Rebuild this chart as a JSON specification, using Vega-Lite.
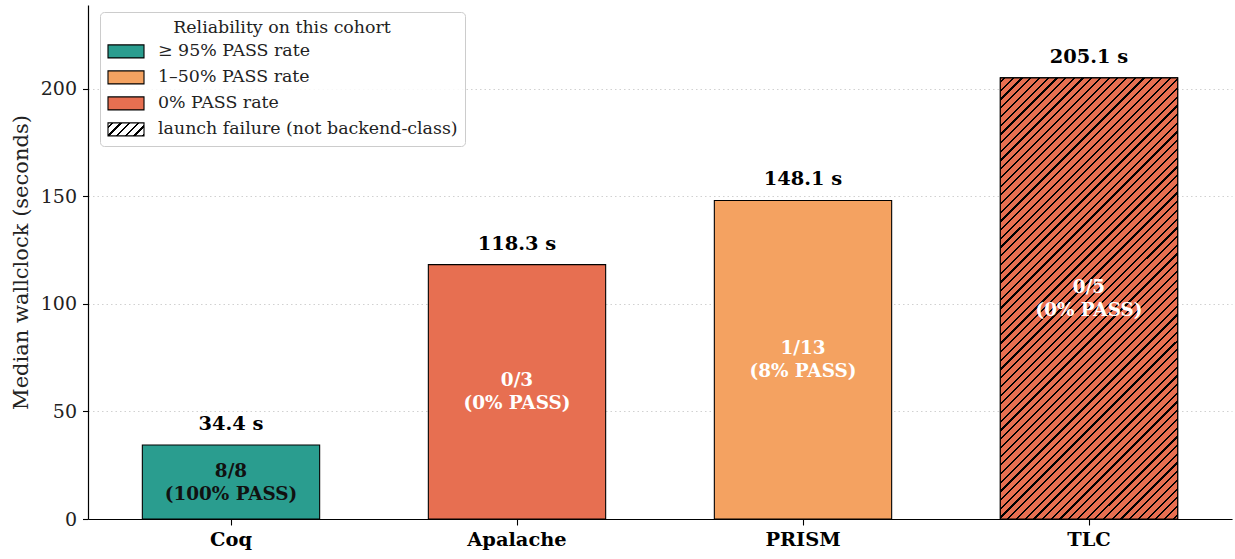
{
  "$schema": "https://vega.github.io/schema/vega-lite/v6.json",
  "width": 1144,
  "height": 514,
  "autosize": {"type": "none"},
  "padding": {"left": 88, "top": 5, "right": 3, "bottom": 40},
  "background": "white",
  "config": {
    "font": "DejaVu Serif",
    "view": {"stroke": null},
    "axis": {"labelFont": "DejaVu Serif", "titleFont": "DejaVu Serif"},
    "legend": {"labelFont": "DejaVu Serif", "titleFont": "DejaVu Serif"},
    "text": {"font": "DejaVu Serif"}
  },
  "data": {
    "values": [
      {"tool": "Coq", "median": 34.4, "label": "34.4 s", "cat": "≥ 95% PASS rate", "inner": ["8/8", "(100% PASS)"], "hatch": false},
      {"tool": "Apalache", "median": 118.3, "label": "118.3 s", "cat": "0% PASS rate", "inner": ["0/3", "(0% PASS)"], "hatch": false},
      {"tool": "PRISM", "median": 148.1, "label": "148.1 s", "cat": "1–50% PASS rate", "inner": ["1/13", "(8% PASS)"], "hatch": false},
      {"tool": "TLC", "median": 205.1, "label": "205.1 s", "cat": "0% PASS rate", "inner": ["0/5", "(0% PASS)"], "hatch": true}
    ]
  },
  "encoding": {
    "x": {
      "field": "tool", "type": "nominal", "sort": null,
      "scale": {"paddingInner": 0.38, "paddingOuter": 0.19},
      "axis": {"title": null, "labelAngle": 0, "labelFont": "DejaVu Serif", "labelFontWeight": "bold", "labelFontSize": 19.4, "labelColor": "black", "labelPadding": 5, "tickSize": 6, "tickColor": "black", "domainColor": "black", "domainWidth": 1.2, "tickWidth": 1.1, "grid": false}
    }
  },
  "layer": [
    {
      "mark": {"type": "bar", "stroke": "black", "strokeWidth": 1.1},
      "encoding": {
        "y": {
          "field": "median", "type": "quantitative",
          "scale": {"domain": [0, 239], "nice": false},
          "axis": {"title": "Median wallclock (seconds)", "titleFont": "DejaVu Serif", "labelFont": "DejaVu Serif", "titleFontWeight": "normal", "titleFontSize": 21, "titleColor": "#222", "labelFontSize": 19, "labelColor": "#222", "tickColor": "black", "domainColor": "black", "domainWidth": 1.2, "tickWidth": 1.1, "tickSize": 5.5, "labelPadding": 6, "titlePadding": 9, "grid": true, "gridDash": [1.5, 3], "gridColor": "#cccccc", "gridWidth": 0.9, "values": [0, 50, 100, 150, 200]}
        },
        "fill": {
          "field": "cat", "type": "nominal",
          "scale": {
            "domain": ["≥ 95% PASS rate", "1–50% PASS rate", "0% PASS rate", "launch failure (not backend-class)"],
            "range": ["#2a9d8f", "#f4a261", "#e76f51", {"expr": "{gradient: 'linear', x1: 0, y1: 0, x2: 1.2041, y2: 0.4348, stops: [{offset: 0, color: 'white'}, {offset: 0.0653, color: 'white'}, {offset: 0.0653, color: 'black'}, {offset: 0.1123, color: 'black'}, {offset: 0.1123, color: 'white'}, {offset: 0.2428, color: 'white'}, {offset: 0.2428, color: 'black'}, {offset: 0.2898, color: 'black'}, {offset: 0.2898, color: 'white'}, {offset: 0.4204, color: 'white'}, {offset: 0.4204, color: 'black'}, {offset: 0.4674, color: 'black'}, {offset: 0.4674, color: 'white'}, {offset: 0.5979, color: 'white'}, {offset: 0.5979, color: 'black'}, {offset: 0.6449, color: 'black'}, {offset: 0.6449, color: 'white'}, {offset: 0.7755, color: 'white'}, {offset: 0.7755, color: 'black'}, {offset: 0.8225, color: 'black'}, {offset: 0.8225, color: 'white'}, {offset: 0.9530, color: 'white'}, {offset: 0.9530, color: 'black'}, {offset: 1, color: 'black'}]}"}]
          },
          "legend": {
            "title": "Reliability on this cohort",
            "orient": "none", "legendX": 12, "legendY": 7,
            "titleFont": "DejaVu Serif", "labelFont": "DejaVu Serif",
            "titleAnchor": "middle", "titleFontWeight": "normal", "titleFontSize": 17.4, "titleColor": "#222", "titlePadding": 1, "titleLimit": 0,
            "labelFontSize": 17.4, "labelColor": "#222", "labelOffset": 18, "labelLimit": 0,
            "symbolType": "M-1.385,-0.5H1.385V0.5H-1.385Z", "symbolSize": 676, "symbolStrokeColor": "black", "symbolStrokeWidth": 1.1, "symbolOffset": 5,
            "rowPadding": 3, "padding": 7,
            "fillColor": "rgba(255,255,255,0.85)", "strokeColor": "#cccccc", "cornerRadius": 4,
            "encode": {
              "labels": {"update": {"font": {"value": "DejaVu Serif"}}},
              "symbols": {
                "update": {
                  "stroke": {"value": "black"},
                  "strokeWidth": {"value": 1.1},
                  "opacity": {"value": 1}
                }
              }
            }
          }
        }
      }
    },
    {
      "transform": [{"filter": "datum.hatch"}],
      "mark": {"type": "bar", "stroke": "black", "strokeWidth": 1.1, "fill": {"gradient": "linear", "x1": 0, "y1": 0, "x2": 0.4851, "y2": 1.2069, "stops": [
        {"offset": 0, "color": "#e76f51"},
        {"offset": 0.0052, "color": "#e76f51"}, {"offset": 0.0052, "color": "black"}, {"offset": 0.0088, "color": "black"}, {"offset": 0.0088, "color": "#e76f51"},
        {"offset": 0.0193, "color": "#e76f51"}, {"offset": 0.0193, "color": "black"}, {"offset": 0.0229, "color": "black"}, {"offset": 0.0229, "color": "#e76f51"},
        {"offset": 0.0334, "color": "#e76f51"}, {"offset": 0.0334, "color": "black"}, {"offset": 0.0370, "color": "black"}, {"offset": 0.0370, "color": "#e76f51"},
        {"offset": 0.0475, "color": "#e76f51"}, {"offset": 0.0475, "color": "black"}, {"offset": 0.0511, "color": "black"}, {"offset": 0.0511, "color": "#e76f51"},
        {"offset": 0.0616, "color": "#e76f51"}, {"offset": 0.0616, "color": "black"}, {"offset": 0.0652, "color": "black"}, {"offset": 0.0652, "color": "#e76f51"},
        {"offset": 0.0757, "color": "#e76f51"}, {"offset": 0.0757, "color": "black"}, {"offset": 0.0793, "color": "black"}, {"offset": 0.0793, "color": "#e76f51"},
        {"offset": 0.0898, "color": "#e76f51"}, {"offset": 0.0898, "color": "black"}, {"offset": 0.0934, "color": "black"}, {"offset": 0.0934, "color": "#e76f51"},
        {"offset": 0.1038, "color": "#e76f51"}, {"offset": 0.1038, "color": "black"}, {"offset": 0.1074, "color": "black"}, {"offset": 0.1074, "color": "#e76f51"},
        {"offset": 0.1179, "color": "#e76f51"}, {"offset": 0.1179, "color": "black"}, {"offset": 0.1215, "color": "black"}, {"offset": 0.1215, "color": "#e76f51"},
        {"offset": 0.1320, "color": "#e76f51"}, {"offset": 0.1320, "color": "black"}, {"offset": 0.1356, "color": "black"}, {"offset": 0.1356, "color": "#e76f51"},
        {"offset": 0.1461, "color": "#e76f51"}, {"offset": 0.1461, "color": "black"}, {"offset": 0.1497, "color": "black"}, {"offset": 0.1497, "color": "#e76f51"},
        {"offset": 0.1602, "color": "#e76f51"}, {"offset": 0.1602, "color": "black"}, {"offset": 0.1638, "color": "black"}, {"offset": 0.1638, "color": "#e76f51"},
        {"offset": 0.1743, "color": "#e76f51"}, {"offset": 0.1743, "color": "black"}, {"offset": 0.1779, "color": "black"}, {"offset": 0.1779, "color": "#e76f51"},
        {"offset": 0.1883, "color": "#e76f51"}, {"offset": 0.1883, "color": "black"}, {"offset": 0.1919, "color": "black"}, {"offset": 0.1919, "color": "#e76f51"},
        {"offset": 0.2024, "color": "#e76f51"}, {"offset": 0.2024, "color": "black"}, {"offset": 0.2060, "color": "black"}, {"offset": 0.2060, "color": "#e76f51"},
        {"offset": 0.2165, "color": "#e76f51"}, {"offset": 0.2165, "color": "black"}, {"offset": 0.2201, "color": "black"}, {"offset": 0.2201, "color": "#e76f51"},
        {"offset": 0.2306, "color": "#e76f51"}, {"offset": 0.2306, "color": "black"}, {"offset": 0.2342, "color": "black"}, {"offset": 0.2342, "color": "#e76f51"},
        {"offset": 0.2447, "color": "#e76f51"}, {"offset": 0.2447, "color": "black"}, {"offset": 0.2483, "color": "black"}, {"offset": 0.2483, "color": "#e76f51"},
        {"offset": 0.2588, "color": "#e76f51"}, {"offset": 0.2588, "color": "black"}, {"offset": 0.2624, "color": "black"}, {"offset": 0.2624, "color": "#e76f51"},
        {"offset": 0.2729, "color": "#e76f51"}, {"offset": 0.2729, "color": "black"}, {"offset": 0.2765, "color": "black"}, {"offset": 0.2765, "color": "#e76f51"},
        {"offset": 0.2869, "color": "#e76f51"}, {"offset": 0.2869, "color": "black"}, {"offset": 0.2905, "color": "black"}, {"offset": 0.2905, "color": "#e76f51"},
        {"offset": 0.3010, "color": "#e76f51"}, {"offset": 0.3010, "color": "black"}, {"offset": 0.3046, "color": "black"}, {"offset": 0.3046, "color": "#e76f51"},
        {"offset": 0.3151, "color": "#e76f51"}, {"offset": 0.3151, "color": "black"}, {"offset": 0.3187, "color": "black"}, {"offset": 0.3187, "color": "#e76f51"},
        {"offset": 0.3292, "color": "#e76f51"}, {"offset": 0.3292, "color": "black"}, {"offset": 0.3328, "color": "black"}, {"offset": 0.3328, "color": "#e76f51"},
        {"offset": 0.3433, "color": "#e76f51"}, {"offset": 0.3433, "color": "black"}, {"offset": 0.3469, "color": "black"}, {"offset": 0.3469, "color": "#e76f51"},
        {"offset": 0.3574, "color": "#e76f51"}, {"offset": 0.3574, "color": "black"}, {"offset": 0.3610, "color": "black"}, {"offset": 0.3610, "color": "#e76f51"},
        {"offset": 0.3714, "color": "#e76f51"}, {"offset": 0.3714, "color": "black"}, {"offset": 0.3750, "color": "black"}, {"offset": 0.3750, "color": "#e76f51"},
        {"offset": 0.3855, "color": "#e76f51"}, {"offset": 0.3855, "color": "black"}, {"offset": 0.3891, "color": "black"}, {"offset": 0.3891, "color": "#e76f51"},
        {"offset": 0.3996, "color": "#e76f51"}, {"offset": 0.3996, "color": "black"}, {"offset": 0.4032, "color": "black"}, {"offset": 0.4032, "color": "#e76f51"},
        {"offset": 0.4137, "color": "#e76f51"}, {"offset": 0.4137, "color": "black"}, {"offset": 0.4173, "color": "black"}, {"offset": 0.4173, "color": "#e76f51"},
        {"offset": 0.4278, "color": "#e76f51"}, {"offset": 0.4278, "color": "black"}, {"offset": 0.4314, "color": "black"}, {"offset": 0.4314, "color": "#e76f51"},
        {"offset": 0.4419, "color": "#e76f51"}, {"offset": 0.4419, "color": "black"}, {"offset": 0.4455, "color": "black"}, {"offset": 0.4455, "color": "#e76f51"},
        {"offset": 0.4560, "color": "#e76f51"}, {"offset": 0.4560, "color": "black"}, {"offset": 0.4596, "color": "black"}, {"offset": 0.4596, "color": "#e76f51"},
        {"offset": 0.4700, "color": "#e76f51"}, {"offset": 0.4700, "color": "black"}, {"offset": 0.4736, "color": "black"}, {"offset": 0.4736, "color": "#e76f51"},
        {"offset": 0.4841, "color": "#e76f51"}, {"offset": 0.4841, "color": "black"}, {"offset": 0.4877, "color": "black"}, {"offset": 0.4877, "color": "#e76f51"},
        {"offset": 0.4982, "color": "#e76f51"}, {"offset": 0.4982, "color": "black"}, {"offset": 0.5018, "color": "black"}, {"offset": 0.5018, "color": "#e76f51"},
        {"offset": 0.5123, "color": "#e76f51"}, {"offset": 0.5123, "color": "black"}, {"offset": 0.5159, "color": "black"}, {"offset": 0.5159, "color": "#e76f51"},
        {"offset": 0.5264, "color": "#e76f51"}, {"offset": 0.5264, "color": "black"}, {"offset": 0.5300, "color": "black"}, {"offset": 0.5300, "color": "#e76f51"},
        {"offset": 0.5405, "color": "#e76f51"}, {"offset": 0.5405, "color": "black"}, {"offset": 0.5441, "color": "black"}, {"offset": 0.5441, "color": "#e76f51"},
        {"offset": 0.5545, "color": "#e76f51"}, {"offset": 0.5545, "color": "black"}, {"offset": 0.5581, "color": "black"}, {"offset": 0.5581, "color": "#e76f51"},
        {"offset": 0.5686, "color": "#e76f51"}, {"offset": 0.5686, "color": "black"}, {"offset": 0.5722, "color": "black"}, {"offset": 0.5722, "color": "#e76f51"},
        {"offset": 0.5827, "color": "#e76f51"}, {"offset": 0.5827, "color": "black"}, {"offset": 0.5863, "color": "black"}, {"offset": 0.5863, "color": "#e76f51"},
        {"offset": 0.5968, "color": "#e76f51"}, {"offset": 0.5968, "color": "black"}, {"offset": 0.6004, "color": "black"}, {"offset": 0.6004, "color": "#e76f51"},
        {"offset": 0.6109, "color": "#e76f51"}, {"offset": 0.6109, "color": "black"}, {"offset": 0.6145, "color": "black"}, {"offset": 0.6145, "color": "#e76f51"},
        {"offset": 0.6250, "color": "#e76f51"}, {"offset": 0.6250, "color": "black"}, {"offset": 0.6286, "color": "black"}, {"offset": 0.6286, "color": "#e76f51"},
        {"offset": 0.6391, "color": "#e76f51"}, {"offset": 0.6391, "color": "black"}, {"offset": 0.6427, "color": "black"}, {"offset": 0.6427, "color": "#e76f51"},
        {"offset": 0.6531, "color": "#e76f51"}, {"offset": 0.6531, "color": "black"}, {"offset": 0.6567, "color": "black"}, {"offset": 0.6567, "color": "#e76f51"},
        {"offset": 0.6672, "color": "#e76f51"}, {"offset": 0.6672, "color": "black"}, {"offset": 0.6708, "color": "black"}, {"offset": 0.6708, "color": "#e76f51"},
        {"offset": 0.6813, "color": "#e76f51"}, {"offset": 0.6813, "color": "black"}, {"offset": 0.6849, "color": "black"}, {"offset": 0.6849, "color": "#e76f51"},
        {"offset": 0.6954, "color": "#e76f51"}, {"offset": 0.6954, "color": "black"}, {"offset": 0.6990, "color": "black"}, {"offset": 0.6990, "color": "#e76f51"},
        {"offset": 0.7095, "color": "#e76f51"}, {"offset": 0.7095, "color": "black"}, {"offset": 0.7131, "color": "black"}, {"offset": 0.7131, "color": "#e76f51"},
        {"offset": 0.7236, "color": "#e76f51"}, {"offset": 0.7236, "color": "black"}, {"offset": 0.7272, "color": "black"}, {"offset": 0.7272, "color": "#e76f51"},
        {"offset": 0.7376, "color": "#e76f51"}, {"offset": 0.7376, "color": "black"}, {"offset": 0.7412, "color": "black"}, {"offset": 0.7412, "color": "#e76f51"},
        {"offset": 0.7517, "color": "#e76f51"}, {"offset": 0.7517, "color": "black"}, {"offset": 0.7553, "color": "black"}, {"offset": 0.7553, "color": "#e76f51"},
        {"offset": 0.7658, "color": "#e76f51"}, {"offset": 0.7658, "color": "black"}, {"offset": 0.7694, "color": "black"}, {"offset": 0.7694, "color": "#e76f51"},
        {"offset": 0.7799, "color": "#e76f51"}, {"offset": 0.7799, "color": "black"}, {"offset": 0.7835, "color": "black"}, {"offset": 0.7835, "color": "#e76f51"},
        {"offset": 0.7940, "color": "#e76f51"}, {"offset": 0.7940, "color": "black"}, {"offset": 0.7976, "color": "black"}, {"offset": 0.7976, "color": "#e76f51"},
        {"offset": 0.8081, "color": "#e76f51"}, {"offset": 0.8081, "color": "black"}, {"offset": 0.8117, "color": "black"}, {"offset": 0.8117, "color": "#e76f51"},
        {"offset": 0.8221, "color": "#e76f51"}, {"offset": 0.8221, "color": "black"}, {"offset": 0.8257, "color": "black"}, {"offset": 0.8257, "color": "#e76f51"},
        {"offset": 0.8362, "color": "#e76f51"}, {"offset": 0.8362, "color": "black"}, {"offset": 0.8398, "color": "black"}, {"offset": 0.8398, "color": "#e76f51"},
        {"offset": 0.8503, "color": "#e76f51"}, {"offset": 0.8503, "color": "black"}, {"offset": 0.8539, "color": "black"}, {"offset": 0.8539, "color": "#e76f51"},
        {"offset": 0.8644, "color": "#e76f51"}, {"offset": 0.8644, "color": "black"}, {"offset": 0.8680, "color": "black"}, {"offset": 0.8680, "color": "#e76f51"},
        {"offset": 0.8785, "color": "#e76f51"}, {"offset": 0.8785, "color": "black"}, {"offset": 0.8821, "color": "black"}, {"offset": 0.8821, "color": "#e76f51"},
        {"offset": 0.8926, "color": "#e76f51"}, {"offset": 0.8926, "color": "black"}, {"offset": 0.8962, "color": "black"}, {"offset": 0.8962, "color": "#e76f51"},
        {"offset": 0.9067, "color": "#e76f51"}, {"offset": 0.9067, "color": "black"}, {"offset": 0.9103, "color": "black"}, {"offset": 0.9103, "color": "#e76f51"},
        {"offset": 0.9207, "color": "#e76f51"}, {"offset": 0.9207, "color": "black"}, {"offset": 0.9243, "color": "black"}, {"offset": 0.9243, "color": "#e76f51"},
        {"offset": 0.9348, "color": "#e76f51"}, {"offset": 0.9348, "color": "black"}, {"offset": 0.9384, "color": "black"}, {"offset": 0.9384, "color": "#e76f51"},
        {"offset": 0.9489, "color": "#e76f51"}, {"offset": 0.9489, "color": "black"}, {"offset": 0.9525, "color": "black"}, {"offset": 0.9525, "color": "#e76f51"},
        {"offset": 0.9630, "color": "#e76f51"}, {"offset": 0.9630, "color": "black"}, {"offset": 0.9666, "color": "black"}, {"offset": 0.9666, "color": "#e76f51"},
        {"offset": 0.9771, "color": "#e76f51"}, {"offset": 0.9771, "color": "black"}, {"offset": 0.9807, "color": "black"}, {"offset": 0.9807, "color": "#e76f51"},
        {"offset": 0.9912, "color": "#e76f51"}, {"offset": 0.9912, "color": "black"}, {"offset": 0.9948, "color": "black"}, {"offset": 0.9948, "color": "#e76f51"},
        {"offset": 1, "color": "#e76f51"}
      ]}},
      "encoding": {"y": {"field": "median", "type": "quantitative"}}
    },
    {
      "mark": {"type": "text", "font": "DejaVu Serif", "fontWeight": "bold", "fontSize": 19.4, "baseline": "alphabetic", "dy": -15, "color": "black"},
      "encoding": {
        "y": {"field": "median", "type": "quantitative"},
        "text": {"field": "label"}
      }
    },
    {
      "transform": [{"calculate": "datum.median / 2", "as": "mid"}],
      "mark": {"type": "text", "font": "DejaVu Serif", "fontWeight": "bold", "fontSize": 18.4, "baseline": "middle", "lineHeight": 23, "dy": -11.5},
      "encoding": {
        "y": {"field": "mid", "type": "quantitative"},
        "text": {"field": "inner"},
        "color": {"condition": {"test": "datum.tool === 'Coq'", "value": "#111111"}, "value": "white"}
      }
    }
  ]
}
